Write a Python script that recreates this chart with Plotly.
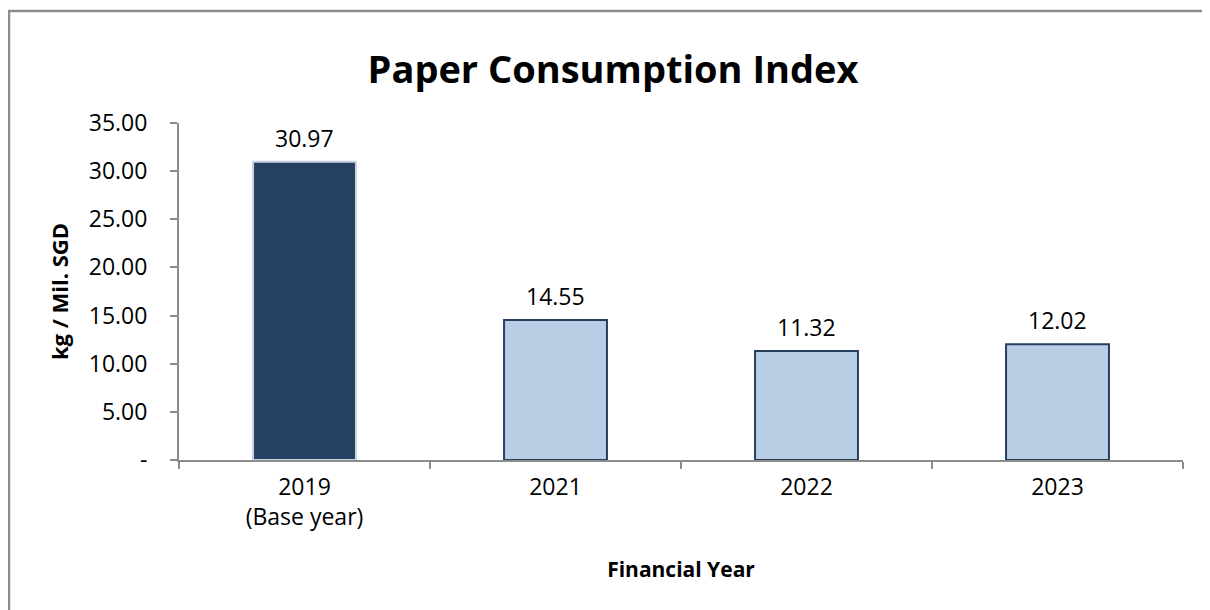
import plotly.graph_objects as go

categories = ["2019<br>(Base year)", "2021", "2022", "2023"]
values = [30.97, 14.55, 11.32, 12.02]
value_labels = ["30.97", "14.55", "11.32", "12.02"]
ytick_vals = [0, 5, 10, 15, 20, 25, 30, 35]
ytick_text = ["-", "5.00", "10.00", "15.00", "20.00", "25.00", "30.00", "35.00"]

FONT = "Open Sans"
W, H = 1202, 602
L, R, T, B = 171, 27, 115, 150

fill_colors = ["#264061", "#B9CDE5", "#B9CDE5", "#B9CDE5"]
line_colors = ["#C9D3E0", "#243F60", "#243F60", "#243F60"]

fig = go.Figure()
fig.add_trace(go.Bar(
    x=categories, y=values, width=0.41,
    marker=dict(color=fill_colors, line=dict(color=line_colors, width=2)),
    hoverinfo="skip",
))

for i, (v, t) in enumerate(zip(values, value_labels)):
    fig.add_annotation(x=i, y=v, text=t, showarrow=False, yanchor="bottom",
                       yshift=6, font=dict(family=FONT, size=23, color="#000"))

pw = W - L - R
ph = H - T - B
fx = (1 - L) / pw
fy = (ph + T - 3) / ph
fig.add_shape(type="path", xref="paper", yref="paper",
              path=f"M {fx} -2 L {fx} {fy} L 1.5 {fy}",
              line=dict(color="#8C8C8C", width=2.5))

fig.update_layout(
    width=W, height=H,
    margin=dict(l=L, r=R, t=T, b=B),
    paper_bgcolor="white", plot_bgcolor="white",
    showlegend=False,
    title=dict(text="<b>Paper Consumption Index</b>", x=605 / W, xanchor="center",
               xref="container", y=1 - 62 / H, yanchor="middle", yref="container",
               font=dict(family=FONT, size=38, color="#000")),
    font=dict(family=FONT, color="#000"),
)
fig.update_xaxes(
    type="category", tickson="boundaries", ticks="outside", ticklen=7,
    tickwidth=2, tickcolor="#8C8C8C", showline=True, linecolor="#8C8C8C",
    linewidth=2, showgrid=False, tickfont=dict(family=FONT, size=23, color="#000"),
    ticklabelstandoff=5, tickangle=0,
    title=dict(text="<b>Financial Year</b>", font=dict(family=FONT, size=21, color="#000"),
               standoff=32),
)
fig.update_yaxes(
    range=[0, 35], tickvals=ytick_vals, ticktext=ytick_text, ticks="outside",
    ticklen=7, tickwidth=2, tickcolor="#8C8C8C", showline=True, linecolor="#8C8C8C",
    linewidth=2, showgrid=False, zeroline=False,
    tickfont=dict(family=FONT, size=23, color="#000"), ticklabelstandoff=18,
    title=dict(text="<b>kg / Mil. SGD</b>", font=dict(family=FONT, size=22, color="#000"),
               standoff=14),
)

fig.write_html("out.html")
